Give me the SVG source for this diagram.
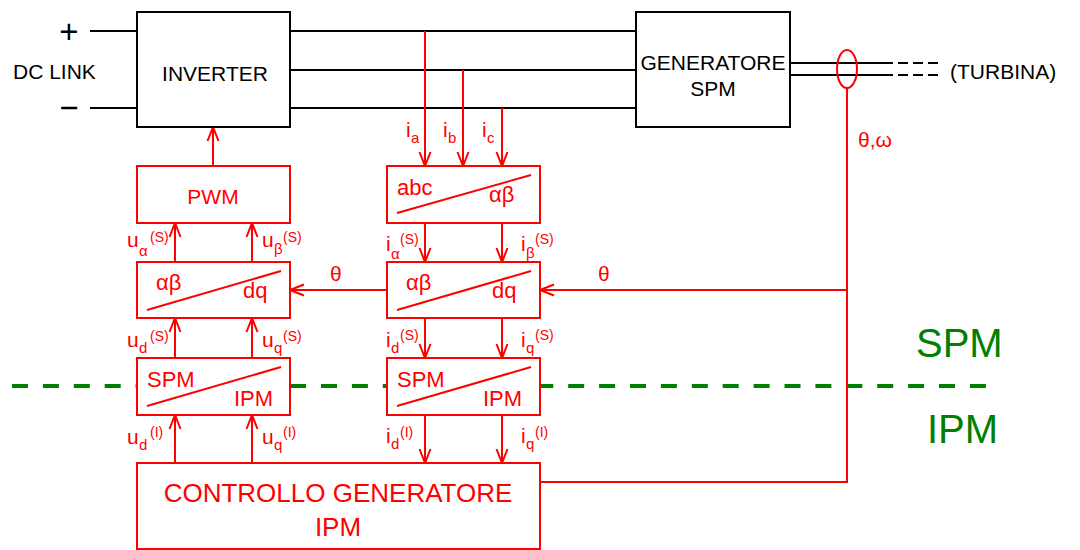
<svg xmlns="http://www.w3.org/2000/svg" width="1080" height="550" viewBox="0 0 1080 550">
<style>
text{font-family:"Liberation Sans",Arial,sans-serif}
.k{fill:none;stroke:#000;stroke-width:2}
.kb{fill:#fff;stroke:#000;stroke-width:2}
.rb{fill:#fff;stroke:#f00;stroke-width:2}
.r{fill:none;stroke:#f00;stroke-width:2}
.rt{fill:#f00}
.kt{fill:#000}
.m{font-size:21px}
.in{font-size:22px}
.lb{font-size:21px}
.sb{font-size:15px}
.sp{font-size:14px}
.g{fill:#008000;font-size:40px}
</style>
<defs>
<marker id="ah" viewBox="-15 -7 16 14" refX="0" refY="0" markerWidth="16" markerHeight="14" markerUnits="userSpaceOnUse" orient="auto">
<path d="M-14,-5.5 L0,0 L-14,5.5" fill="none" stroke="#f00" stroke-width="2"/>
</marker>
</defs>
<rect width="1080" height="550" fill="#fff"/>

<g id="boundary">
<line x1="12" y1="386" x2="986" y2="386" stroke="#008000" stroke-width="4" stroke-dasharray="16 14.9"/>
<text class="g" x="916" y="357">SPM</text>
<text class="g" x="927" y="443">IPM</text>
</g>

<g id="connectors">
<line class="k" x1="90" y1="31" x2="137" y2="31"/>
<line class="k" x1="90" y1="108" x2="137" y2="108"/>
<line class="k" x1="290" y1="31" x2="636" y2="31"/>
<line class="k" x1="290" y1="70" x2="636" y2="70"/>
<line class="k" x1="290" y1="108" x2="636" y2="108"/>
<line class="k" x1="790" y1="63" x2="893" y2="63"/>
<line class="k" x1="790" y1="75" x2="893" y2="75"/>
<line class="k" x1="898" y1="63" x2="940" y2="63" stroke-dasharray="10 5"/>
<line class="k" x1="898" y1="75" x2="940" y2="75" stroke-dasharray="10 5"/>
<line class="r" x1="425" y1="31" x2="425" y2="166" marker-end="url(#ah)"/>
<line class="r" x1="463" y1="70" x2="463" y2="166" marker-end="url(#ah)"/>
<line class="r" x1="502" y1="108" x2="502" y2="166" marker-end="url(#ah)"/>
<line class="r" x1="425" y1="223" x2="425" y2="262" marker-end="url(#ah)"/>
<line class="r" x1="502" y1="223" x2="502" y2="262" marker-end="url(#ah)"/>
<line class="r" x1="425" y1="318" x2="425" y2="358" marker-end="url(#ah)"/>
<line class="r" x1="502" y1="318" x2="502" y2="358" marker-end="url(#ah)"/>
<line class="r" x1="425" y1="415" x2="425" y2="463" marker-end="url(#ah)"/>
<line class="r" x1="502" y1="415" x2="502" y2="463" marker-end="url(#ah)"/>
<line class="r" x1="175" y1="463" x2="175" y2="415" marker-end="url(#ah)"/>
<line class="r" x1="252" y1="463" x2="252" y2="415" marker-end="url(#ah)"/>
<line class="r" x1="175" y1="358" x2="175" y2="318" marker-end="url(#ah)"/>
<line class="r" x1="252" y1="358" x2="252" y2="318" marker-end="url(#ah)"/>
<line class="r" x1="175" y1="262" x2="175" y2="223" marker-end="url(#ah)"/>
<line class="r" x1="252" y1="262" x2="252" y2="223" marker-end="url(#ah)"/>
<line class="r" x1="213" y1="166" x2="213" y2="127" marker-end="url(#ah)"/>
<line class="r" x1="387" y1="290" x2="290" y2="290" marker-end="url(#ah)"/>
<line class="r" x1="847" y1="290" x2="540" y2="290" marker-end="url(#ah)"/>
<polyline class="r" points="847,88 847,482 540,482"/>
</g>

<g id="dc-link">
<text class="kt" x="69" y="43" font-size="33" text-anchor="middle">+</text>
<text class="kt" x="69" y="119" font-size="33" text-anchor="middle">−</text>
<text class="kt m" x="13" y="79">DC LINK</text>
</g>

<g id="inverter">
<rect class="kb" x="137" y="12" width="153" height="115"/>
<text class="kt m" x="215" y="81" text-anchor="middle">INVERTER</text>
</g>

<g id="generatore">
<rect class="kb" x="636" y="12" width="154" height="115"/>
<text class="kt m" x="713" y="70" text-anchor="middle">GENERATORE</text>
<text class="kt m" x="713" y="96" text-anchor="middle">SPM</text>
</g>

<g id="sensor">
<ellipse class="r" cx="847" cy="69" rx="10" ry="19"/>
<text class="rt lb" x="858" y="147">θ,ω</text>
</g>

<g id="turbina">
<text class="kt m" x="950" y="79">(TURBINA)</text>
</g>

<g id="pwm">
<rect class="rb" x="137" y="166" width="153" height="57"/>
<text class="rt lb" x="213" y="204" text-anchor="middle">PWM</text>
</g>

<g id="abc-ab">
<rect class="rb" x="387" y="166" width="153" height="57"/>
<line class="r" x1="397" y1="213" x2="531" y2="175"/>
<text class="rt in" x="397" y="195">abc</text>
<text class="rt in" x="489" y="202">αβ</text>
</g>

<g id="ab-dq-u">
<rect class="rb" x="137" y="262" width="153" height="56"/>
<line class="r" x1="147" y1="310" x2="281" y2="271"/>
<text class="rt in" x="156" y="290">αβ</text>
<text class="rt in" x="243" y="298">dq</text>
</g>

<g id="ab-dq-i">
<rect class="rb" x="387" y="262" width="153" height="56"/>
<line class="r" x1="397" y1="310" x2="531" y2="271"/>
<text class="rt in" x="406" y="290">αβ</text>
<text class="rt in" x="492" y="298">dq</text>
</g>

<g id="spm-ipm-u">
<rect class="rb" x="137" y="358" width="153" height="57"/>
<line class="r" x1="147" y1="406" x2="281" y2="367"/>
<text class="rt in" x="147" y="387">SPM</text>
<text class="rt in" x="234" y="406">IPM</text>
</g>

<g id="spm-ipm-i">
<rect class="rb" x="387" y="358" width="153" height="57"/>
<line class="r" x1="397" y1="406" x2="531" y2="367"/>
<text class="rt in" x="397" y="387">SPM</text>
<text class="rt in" x="483" y="406">IPM</text>
</g>

<g id="controllo">
<rect class="rb" x="137" y="463" width="403" height="86"/>
<text class="rt" x="338" y="502" font-size="26" text-anchor="middle">CONTROLLO GENERATORE</text>
<text class="rt" x="338" y="536" font-size="26" text-anchor="middle">IPM</text>
</g>

<g id="labels" class="rt">
<text class="lb" x="330" y="281">θ</text>
<text class="lb" x="598" y="281">θ</text>
<text class="lb" x="406" y="137">i</text><text class="sb" x="411" y="143">a</text>
<text class="lb" x="443" y="137">i</text><text class="sb" x="448" y="143">b</text>
<text class="lb" x="482" y="137">i</text><text class="sb" x="487" y="143">c</text>
<text class="lb" x="127" y="247">u</text><text class="sb" x="139" y="256">α</text><text class="sp" x="150" y="242">(S)</text>
<text class="lb" x="262" y="247">u</text><text class="sb" x="274" y="254">β</text><text class="sp" x="283" y="242">(S)</text>
<text class="lb" x="127" y="347">u</text><text class="sb" x="139" y="353">d</text><text class="sp" x="150" y="341">(S)</text>
<text class="lb" x="262" y="347">u</text><text class="sb" x="274" y="353">q</text><text class="sp" x="283" y="341">(S)</text>
<text class="lb" x="127" y="444">u</text><text class="sb" x="139" y="450">d</text><text class="sp" x="150" y="437">(I)</text>
<text class="lb" x="262" y="444">u</text><text class="sb" x="274" y="450">q</text><text class="sp" x="283" y="437">(I)</text>
<text class="lb" x="386" y="251">i</text><text class="sb" x="391" y="259">α</text><text class="sp" x="400" y="244">(S)</text>
<text class="lb" x="521" y="251">i</text><text class="sb" x="526" y="258">β</text><text class="sp" x="535" y="244">(S)</text>
<text class="lb" x="386" y="347">i</text><text class="sb" x="391" y="353">d</text><text class="sp" x="400" y="340">(S)</text>
<text class="lb" x="521" y="347">i</text><text class="sb" x="526" y="353">q</text><text class="sp" x="535" y="340">(S)</text>
<text class="lb" x="386" y="443">i</text><text class="sb" x="391" y="449">d</text><text class="sp" x="400" y="437">(I)</text>
<text class="lb" x="521" y="443">i</text><text class="sb" x="526" y="449">q</text><text class="sp" x="535" y="437">(I)</text>
</g>
</svg>
